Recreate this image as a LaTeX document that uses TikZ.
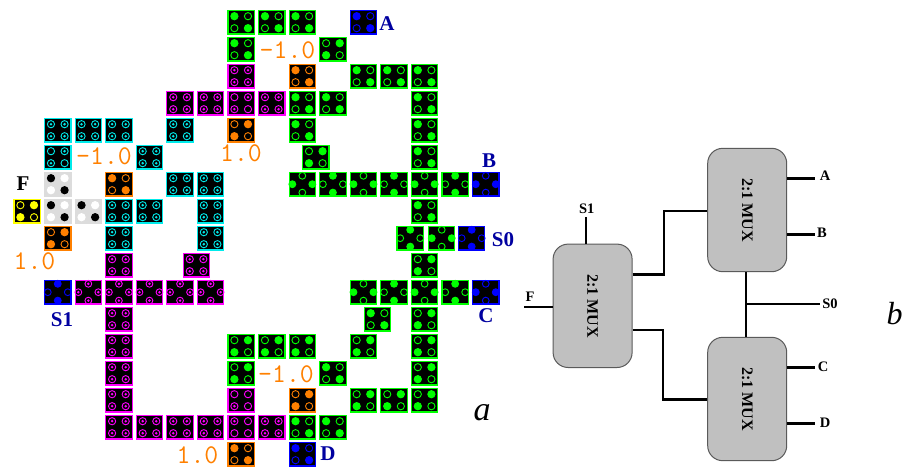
\documentclass[tikz,border=0pt]{standalone}
\usepackage{fontspec}
\setmainfont{Liberation Serif}
\usetikzlibrary{calc,positioning}

\definecolor{qgreen}{RGB}{0,255,0}
\definecolor{qmagenta}{RGB}{255,0,255}
\definecolor{qcyan}{RGB}{0,235,235}
\definecolor{qorange}{RGB}{255,128,0}
\definecolor{qblue}{RGB}{0,0,255}
\definecolor{qyellow}{RGB}{255,255,0}
\definecolor{qpale}{RGB}{220,220,220}
\definecolor{labelblue}{RGB}{0,0,160}
\definecolor{muxgray}{RGB}{192,192,192}
\definecolor{muxedge}{RGB}{90,90,90}

\tikzset{
  qbox/.style={rectangle, minimum width=26.4pt, minimum height=23.6pt, inner sep=0pt, outer sep=0pt, line width=1.1pt},
  qon/.style={fill=\qtone, draw=\qtone, line width=1pt},
  qoff/.style={draw=\qtone, line width=0.9pt},
  qwhite/.style={fill=white, draw=white, line width=1pt},
  qdot/.style={draw=\qtone, line width=0.9pt, path picture={\fill[\qtone] (path picture bounding box.center) circle[radius=1.4pt];}},
  orangelabel/.style={inner sep=0pt, text=qorange, font=\ttfamily\fontsize{27}{27}\selectfont\addfontfeature{LetterSpace=8}},
  bluelabel/.style={inner sep=0pt, text=labelblue, font=\bfseries\fontsize{21}{21}\selectfont},
  muxlabel/.style={inner sep=0pt, font=\bfseries\fontsize{14.5}{14.5}\selectfont},
  mux/.style={rectangle, rounded corners=15pt, draw=muxedge, fill=muxgray, line width=1pt, minimum width=79pt, minimum height=123.4pt, inner sep=0pt},
  muxtext/.style={rotate=-90, inner sep=0pt, font=\bfseries\fontsize{16}{16}\selectfont},
  wire/.style={draw=black, line width=2.4pt},
  caption/.style={inner sep=0pt, font=\itshape\fontsize{34}{34}\selectfont}
}

% four dots of an upright cell
\newcommand{\qfour}[4]{
  \path[#1] ($(\qname)+(-6.8pt,6pt)$) circle[radius=3.6pt];
  \path[#2] ($(\qname)+(6.8pt,6pt)$) circle[radius=3.6pt];
  \path[#3] ($(\qname)+(-6.8pt,-6pt)$) circle[radius=3.6pt];
  \path[#4] ($(\qname)+(6.8pt,-6pt)$) circle[radius=3.6pt];
}
% four dots of a rotated cell
\newcommand{\qside}[4]{
  \path[#1] ($(\qname)+(0pt,8.4pt)$) circle[radius=3.4pt];
  \path[#2] ($(\qname)+(10pt,0pt)$) circle[radius=3.4pt];
  \path[#3] ($(\qname)+(0pt,-8.4pt)$) circle[radius=3.4pt];
  \path[#4] ($(\qname)+(-10pt,0pt)$) circle[radius=3.4pt];
}
\newcommand{\qkindp}{\qfour{qon}{qoff}{qoff}{qon}}
\newcommand{\qkindn}{\qfour{qoff}{qon}{qon}{qoff}}
\newcommand{\qkindq}{\qfour{qdot}{qdot}{qdot}{qdot}}
\newcommand{\qkinde}{\qfour{qoff}{qdot}{qdot}{qoff}}
\newcommand{\qkindf}{\qfour{qdot}{qoff}{qoff}{qoff}}
\newcommand{\qkindg}{\qfour{qoff}{qoff}{qdot}{qoff}}
\newcommand{\qkindw}{\qfour{qon}{qwhite}{qwhite}{qon}}
\newcommand{\qkindv}{\qside{qon}{qoff}{qon}{qoff}}
\newcommand{\qkindh}{\qside{qoff}{qon}{qoff}{qon}}
\newcommand{\qkindr}{\qside{qdot}{qdot}{qdot}{qdot}}

% [box options]{column}{row}{tone}{kind}
\newcommand{\qcell}[5][]{
  \pgfmathtruncatemacro{\qcol}{round(#2*10)}
  \def\qname{c\qcol-#3}
  \def\qtone{#4}
  \node[qbox, draw=#4, fill=black, #1] (\qname) at ({27.2+30.57*#2},{22.2+27*#3}) {};
  \csname qkind#5\endcsname
}

\begin{document}
\begin{tikzpicture}[x=1pt,y=-1pt]
  \useasboundingbox (0,0) rectangle (903,467);

  % a: top block
  \foreach \c in {7,8,9} {\qcell{\c}{0}{qgreen}{p}}
  \qcell{11}{0}{qblue}{p}
  \qcell{7}{1}{qgreen}{p}
  \qcell{10}{1}{qgreen}{n}
  \qcell{7}{2}{qmagenta}{q}
  \qcell{9}{2}{qorange}{p}
  \foreach \c in {11,12,13} {\qcell{\c}{2}{qgreen}{p}}
  \foreach \c in {5,6,8} {\qcell{\c}{3}{qmagenta}{q}}
  \qcell{7}{3}{qmagenta}{e}
  \foreach \c in {9,10,13} {\qcell{\c}{3}{qgreen}{p}}
  \foreach \c in {1,2,3,5} {\qcell{\c}{4}{qcyan}{q}}
  \qcell{7}{4}{qorange}{n}
  \foreach \c in {9,13} {\qcell{\c}{4}{qgreen}{p}}
  \qcell{1}{5}{qcyan}{e}
  \qcell{4}{5}{qcyan}{q}
  \qcell{9.44}{5}{qgreen}{n}
  \qcell{13}{5}{qgreen}{p}

  % a: middle rows
  \qcell[draw=qpale, fill=qpale]{1}{6}{black}{w}
  \qcell{3}{6}{qorange}{p}
  \foreach \c in {5,6} {\qcell{\c}{6}{qcyan}{q}}
  \foreach \c in {9,11,13} {\qcell{\c}{6}{qgreen}{h}}
  \foreach \c in {10,12,14} {\qcell{\c}{6}{qgreen}{v}}
  \qcell{15}{6}{qblue}{h}
  \qcell{0}{7}{qyellow}{n}
  \foreach \c in {1,2} {\qcell[draw=qpale, fill=qpale]{\c}{7}{black}{w}}
  \foreach \c in {3,4,6} {\qcell{\c}{7}{qcyan}{q}}
  \qcell{13}{7}{qgreen}{p}
  \qcell{1}{8}{qorange}{n}
  \foreach \c in {3,6} {\qcell{\c}{8}{qcyan}{q}}
  \qcell{12.53}{8}{qgreen}{v}
  \qcell{13.56}{8}{qgreen}{h}
  \qcell{14.54}{8}{qblue}{v}
  \foreach \c in {3,5.54} {\qcell{\c}{9}{qmagenta}{q}}
  \qcell{13}{9}{qgreen}{n}
  \qcell{1}{10}{qblue}{v}
  \foreach \c in {2,3,4,5,6} {\qcell{\c}{10}{qmagenta}{r}}
  \foreach \c in {11,13} {\qcell{\c}{10}{qgreen}{h}}
  \foreach \c in {12,14} {\qcell{\c}{10}{qgreen}{v}}
  \qcell{15}{10}{qblue}{h}

  % a: bottom block
  \qcell{3}{11}{qmagenta}{q}
  \qcell{11.46}{11}{qgreen}{p}
  \qcell{13}{11}{qgreen}{n}
  \qcell{3}{12}{qmagenta}{q}
  \foreach \c in {7,8,9,11,13} {\qcell{\c}{12}{qgreen}{n}}
  \qcell{3}{13}{qmagenta}{q}
  \foreach \c in {7,13} {\qcell{\c}{13}{qgreen}{n}}
  \qcell{10}{13}{qgreen}{p}
  \qcell{3}{14}{qmagenta}{q}
  \qcell{7}{14}{qmagenta}{g}
  \qcell{9}{14}{qorange}{n}
  \foreach \c in {11,12,13} {\qcell{\c}{14}{qgreen}{n}}
  \foreach \c in {3,4,5,6,8} {\qcell{\c}{15}{qmagenta}{q}}
  \qcell{7}{15}{qmagenta}{f}
  \foreach \c in {9,10} {\qcell{\c}{15}{qgreen}{p}}
  \qcell{7}{16}{qorange}{p}
  \qcell{9}{16}{qblue}{p}

  % a: labels
  \node[orangelabel] (fixtop) at (287.5,50.5) {\textendash1.0};
  \node[orangelabel] (fixleft) at (104,156.5) {\textendash1.0};
  \node[orangelabel] (fixbot) at (286,374.5) {\textendash1.0};
  \node[orangelabel] (onetop) at (241,153) {1.0};
  \node[orangelabel] (oneleft) at (34.5,261) {1.0};
  \node[orangelabel] (onebot) at (197.5,455) {1.0};
  \node[bluelabel] (nameA) at (387,24) {A};
  \node[bluelabel] (nameB) at (489,161) {B};
  \node[bluelabel] (nameC) at (486,316) {C};
  \node[bluelabel] (nameD) at (328,454) {D};
  \node[bluelabel] (nameS0) at (503,240) {S0};
  \node[bluelabel] (nameS1) at (62,320) {S1};
  \node[bluelabel, text=black] (nameF) at (23,184) {F};
  \node[caption] (capa) at (482,413) {a};

  % b: multiplexers
  \node[mux] (muxL) at (592.6,305.8) {};
  \node[mux] (muxT) at (747.2,210) {};
  \node[mux] (muxB) at (747.2,399) {};
  \node[muxtext] (textL) at (muxL) {2:1 MUX};
  \node[muxtext] (textT) at (muxT) {2:1 MUX};
  \node[muxtext] (textB) at (muxB) {2:1 MUX};

  \coordinate (endS1) at (586,217);
  \coordinate (endF) at (524,306.7);
  \coordinate (endA) at (815,178.3);
  \coordinate (endB) at (815,234.3);
  \coordinate (endC) at (815,367.3);
  \coordinate (endD) at (815,423.3);
  \coordinate (endS0) at (820,303.7);
  \coordinate (tapS0) at (745.7,303.7);
  \coordinate (upA) at (664,274.3);
  \coordinate (upB) at (664,210.7);
  \coordinate (downA) at (662.7,330);
  \coordinate (downB) at (662.7,399.3);

  \draw[wire] (endS1 |- muxL.north) -- (endS1);
  \draw[wire] (endF -| muxL.west) -- (endF);
  \draw[wire] (upA -| muxL.east) -- (upA) -- (upB) -- (upB -| muxT.west);
  \draw[wire] (downA -| muxL.east) -- (downA) -- (downB) -- (downB -| muxB.west);
  \draw[wire] (tapS0 |- muxT.south) -- (tapS0 |- muxB.north);
  \draw[wire] (tapS0) -- (endS0);
  \draw[wire] (endA -| muxT.east) -- (endA);
  \draw[wire] (endB -| muxT.east) -- (endB);
  \draw[wire] (endC -| muxB.east) -- (endC);
  \draw[wire] (endD -| muxB.east) -- (endD);

  \node[muxlabel] (inS1) at (586.7,209) {S1};
  \node[muxlabel] (inF) at (530,297) {F};
  \node[muxlabel] (inA) at (825,176) {A};
  \node[muxlabel] (inB) at (822,233) {B};
  \node[muxlabel] (inC) at (823,367) {C};
  \node[muxlabel] (inD) at (825,423) {D};
  \node[muxlabel] (inS0) at (830,303.7) {S0};
  \node[caption, font=\itshape\fontsize{32}{32}\selectfont] (capb) at (894.5,314) {b};
\end{tikzpicture}
\end{document}
